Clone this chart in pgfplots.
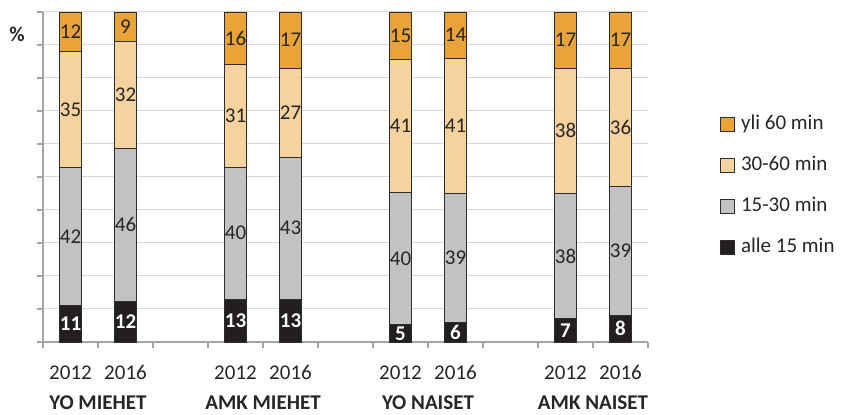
\documentclass[border=0pt]{standalone}
\usepackage{pgfplots}
\pgfplotsset{compat=1.18}
\usepackage{fontspec}
\setmainfont{Carlito}
\definecolor{cA}{RGB}{35,31,32}
\definecolor{cB}{RGB}{194,194,196}
\definecolor{cC}{RGB}{246,211,158}
\definecolor{cD}{RGB}{233,163,56}
\definecolor{barline}{RGB}{45,45,45}
\definecolor{gridc}{RGB}{217,217,217}
\definecolor{axc}{RGB}{165,165,165}
\definecolor{txt}{RGB}{38,38,38}
\newcommand{\bigf}{\fontsize{21}{25}\selectfont}
\begin{document}
\begin{tikzpicture}
\useasboundingbox (-43pt,-73pt) rectangle (798pt,342pt);
\begin{axis}[at={(0,0)}, anchor=south west, scale only axis,
  width=605pt, height=330pt, clip=false,
  xmin=-0.5, xmax=10.5, ymin=0, ymax=100,
  ybar stacked, bar width=22pt,
  axis x line*=bottom, axis y line*=left,
  axis line style={draw=axc, line width=1.2pt},
  tick style={draw=axc, line width=1.2pt},
  tick align=outside, major tick length=6pt,
  ytick={0,10,...,100}, yticklabels={},
  ymajorgrids, grid style={draw=gridc, line width=1pt},
  xtick={-0.5,0.5,...,10.5}, xticklabels={},
  extra x ticks={0,1,3,4,6,7,9,10},
  extra x tick labels={2012,2016,2012,2016,2012,2016,2012,2016},
  extra x tick style={tick style={draw=none}},
  xticklabel style={font=\bigf, text=txt, anchor=base, yshift=-31pt},
  legend style={at={(1.119,0.472)}, anchor=west, draw=none, fill=none,
    font=\bigf, text=txt, inner sep=0pt, row sep=23pt,
    nodes={inner sep=0pt, text height=14pt, text depth=4pt},
    /tikz/every odd column/.append style={column sep=6pt}},
  legend cell align=left, reverse legend,
  legend image code/.code={\draw[#1,draw=barline,line width=0.8pt] (0pt,-7pt) rectangle (14pt,7pt);},
]
\addplot[fill=cA, draw=barline, line width=0.9pt] coordinates {(0,11) (1,12.4) (3,13) (4,13) (6,5.2) (7,6) (9,7) (10,8)};
\addplot[fill=cB, draw=barline, line width=0.9pt] coordinates {(0,42) (1,46.3) (3,40) (4,43) (6,40) (7,39) (9,38) (10,39)};
\addplot[fill=cC, draw=barline, line width=0.9pt] coordinates {(0,35) (1,32.4) (3,31) (4,27) (6,40.4) (7,41) (9,38) (10,36)};
\addplot[fill=cD, draw=barline, line width=0.9pt] coordinates {(0,12) (1,8.9) (3,16) (4,17) (6,14.4) (7,14) (9,17) (10,17)};
\legend{alle 15 min,15-30 min,30-60 min,yli 60 min}
\node[font=\bigf\bfseries, text=txt] at ([xshift=-26pt,yshift=308pt]rel axis cs:0,0) {\%};
\node[font=\bigf\bfseries, text=txt, anchor=base] at ([yshift=-67pt]axis cs:0.5,0) {YO MIEHET};
\node[font=\bigf\bfseries, text=txt, anchor=base] at ([yshift=-67pt]axis cs:3.5,0) {AMK MIEHET};
\node[font=\bigf\bfseries, text=txt, anchor=base] at ([yshift=-67pt]axis cs:6.5,0) {YO NAISET};
\node[font=\bigf\bfseries, text=txt, anchor=base] at ([yshift=-67pt]axis cs:9.5,0) {AMK NAISET};
\end{axis}
\begin{axis}[at={(0,0)}, anchor=south west, scale only axis,
  width=605pt, height=330pt,
  xmin=-0.5, xmax=10.5, ymin=0, ymax=100, hide axis,
  nodes near coords, point meta=explicit symbolic,
  every node near coord/.append style={anchor=center, font=\bigf, text=txt, inner sep=0pt},
]
\addplot[draw=none, mark=none, nodes near coords style={text=white, font=\bigf\bfseries}] coordinates {
(0,5.5)[11] (1,6.2)[12] (3,6.5)[13] (4,6.5)[13] (6,2.6)[5] (7,3)[6] (9,3.5)[7] (10,4)[8]};
\addplot[draw=none, mark=none] coordinates {
(0,32)[42] (1,35.6)[46] (3,33)[40] (4,34.5)[43] (6,25.2)[40] (7,25.5)[39] (9,26)[38] (10,27.5)[39]};
\addplot[draw=none, mark=none] coordinates {
(0,70.5)[35] (1,74.9)[32] (3,68.5)[31] (4,69.5)[27] (6,65.4)[41] (7,65.5)[41] (9,64)[38] (10,65)[36]};
\addplot[draw=none, mark=none] coordinates {
(0,94)[12] (1,95.5)[9] (3,92)[16] (4,91.5)[17] (6,92.8)[15] (7,93)[14] (9,91.5)[17] (10,91.5)[17]};
\end{axis}
\end{tikzpicture}
\end{document}
